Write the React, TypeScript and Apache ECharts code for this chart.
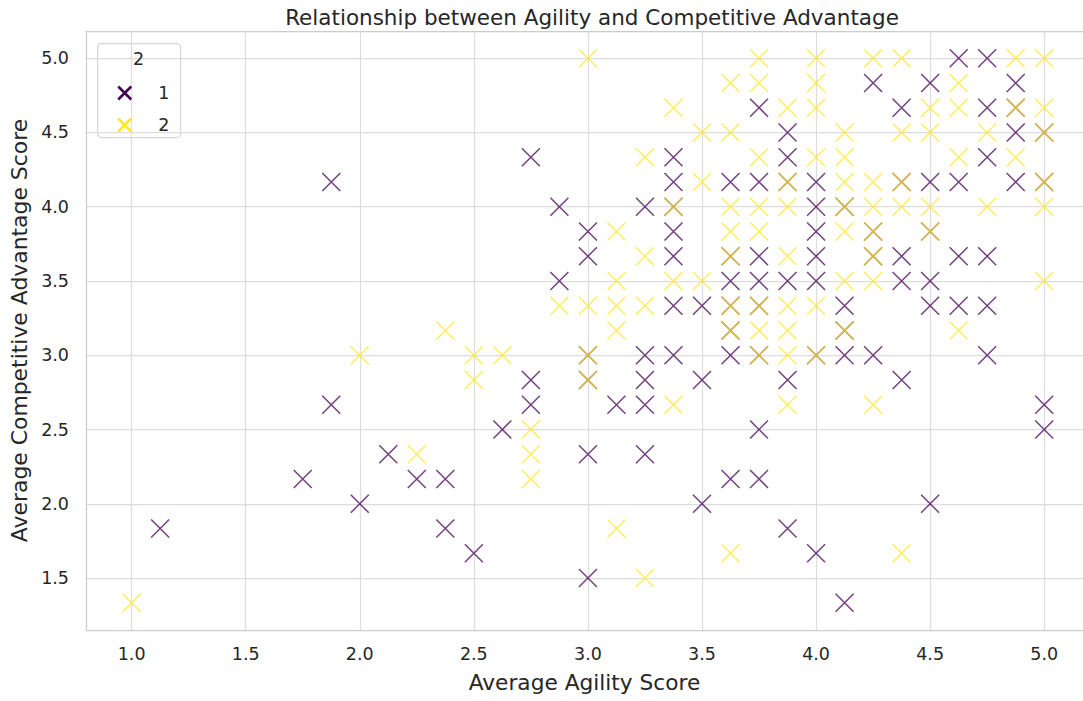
import React, { useEffect, useRef } from "react";
import * as echarts from "echarts";

const chartTitle = "Relationship between Agility and Competitive Advantage";
const xAxisTitle = "Average Agility Score";
const yAxisTitle = "Average Competitive Advantage Score";
const legendTitle = "2";
const groupNames = ["1", "2"];
const groupColors = ["#440154", "#fde725"];

const xTicks = [1.0, 1.5, 2.0, 2.5, 3.0, 3.5, 4.0, 4.5, 5.0];
const yTicks = [1.5, 2.0, 2.5, 3.0, 3.5, 4.0, 4.5, 5.0];

// group "1" (purple)
const group1: number[][] = [
  [1.125, 1.833], [1.75, 2.167], [1.875, 4.167], [1.875, 2.667], [2.0, 2.0],
  [2.125, 2.333], [2.25, 2.167], [2.375, 2.167], [2.375, 1.833], [2.5, 1.667],
  [2.625, 2.5], [2.75, 4.333], [2.75, 2.833], [2.75, 2.667], [2.875, 4.0], [2.875, 3.5],
  [3.0, 3.833], [3.0, 3.667], [3.0, 3.0], [3.0, 2.833], [3.0, 2.333], [3.0, 1.5],
  [3.125, 2.667],
  [3.25, 4.0], [3.25, 3.0], [3.25, 2.833], [3.25, 2.667], [3.25, 2.333],
  [3.375, 4.333], [3.375, 4.167], [3.375, 4.0], [3.375, 3.833], [3.375, 3.667], [3.375, 3.333], [3.375, 3.0],
  [3.5, 3.333], [3.5, 2.833], [3.5, 2.0],
  [3.625, 4.167], [3.625, 3.667], [3.625, 3.5], [3.625, 3.333], [3.625, 3.167], [3.625, 3.0], [3.625, 2.167],
  [3.75, 4.667], [3.75, 4.167], [3.75, 3.667], [3.75, 3.5], [3.75, 3.333], [3.75, 3.0], [3.75, 2.5], [3.75, 2.167],
  [3.875, 4.5], [3.875, 4.333], [3.875, 4.167], [3.875, 3.5], [3.875, 2.833], [3.875, 1.833],
  [4.0, 4.167], [4.0, 4.0], [4.0, 3.833], [4.0, 3.667], [4.0, 3.5], [4.0, 3.0], [4.0, 1.667],
  [4.125, 4.0], [4.125, 3.333], [4.125, 3.167], [4.125, 3.0], [4.125, 1.333],
  [4.25, 4.833], [4.25, 3.833], [4.25, 3.667], [4.25, 3.0],
  [4.375, 4.667], [4.375, 4.167], [4.375, 3.667], [4.375, 3.5], [4.375, 2.833],
  [4.5, 4.833], [4.5, 4.167], [4.5, 3.833], [4.5, 3.5], [4.5, 3.333], [4.5, 2.0],
  [4.625, 5.0], [4.625, 4.167], [4.625, 3.667], [4.625, 3.333],
  [4.75, 5.0], [4.75, 4.667], [4.75, 4.333], [4.75, 3.667], [4.75, 3.333], [4.75, 3.0],
  [4.875, 4.833], [4.875, 4.667], [4.875, 4.5], [4.875, 4.167],
  [5.0, 4.5], [5.0, 4.167], [5.0, 2.667], [5.0, 2.5],
];

// group "2" (yellow)
const group2: number[][] = [
  [1.0, 1.333], [2.0, 3.0], [2.25, 2.333], [2.375, 3.167], [2.5, 3.0], [2.5, 2.833],
  [2.625, 3.0], [2.75, 2.5], [2.75, 2.333], [2.75, 2.167], [2.875, 3.333],
  [3.0, 5.0], [3.0, 3.333], [3.0, 3.0], [3.0, 2.833],
  [3.125, 3.833], [3.125, 3.5], [3.125, 3.333], [3.125, 3.167], [3.125, 1.833],
  [3.25, 4.333], [3.25, 3.667], [3.25, 3.333], [3.25, 1.5],
  [3.375, 4.667], [3.375, 4.0], [3.375, 3.5], [3.375, 2.667],
  [3.5, 4.5], [3.5, 4.167], [3.5, 3.5],
  [3.625, 4.833], [3.625, 4.5], [3.625, 4.0], [3.625, 3.833], [3.625, 3.667], [3.625, 3.333], [3.625, 3.167], [3.625, 1.667],
  [3.75, 5.0], [3.75, 4.833], [3.75, 4.333], [3.75, 4.0], [3.75, 3.833], [3.75, 3.333], [3.75, 3.167], [3.75, 3.0],
  [3.875, 4.667], [3.875, 4.167], [3.875, 4.0], [3.875, 3.667], [3.875, 3.333], [3.875, 3.167], [3.875, 3.0], [3.875, 2.667],
  [4.0, 5.0], [4.0, 4.833], [4.0, 4.667], [4.0, 4.333], [4.0, 3.333], [4.0, 3.0],
  [4.125, 4.5], [4.125, 4.333], [4.125, 4.167], [4.125, 4.0], [4.125, 3.833], [4.125, 3.5], [4.125, 3.167],
  [4.25, 5.0], [4.25, 4.167], [4.25, 4.0], [4.25, 3.833], [4.25, 3.667], [4.25, 3.5], [4.25, 2.667],
  [4.375, 5.0], [4.375, 4.5], [4.375, 4.167], [4.375, 4.0], [4.375, 1.667],
  [4.5, 4.667], [4.5, 4.5], [4.5, 4.0], [4.5, 3.833],
  [4.625, 4.833], [4.625, 4.667], [4.625, 4.333], [4.625, 3.167],
  [4.75, 4.5], [4.75, 4.0],
  [4.875, 5.0], [4.875, 4.667], [4.875, 4.333],
  [5.0, 5.0], [5.0, 4.667], [5.0, 4.5], [5.0, 4.167], [5.0, 4.0], [5.0, 3.5],
];

const X_SYMBOL = "path://M0,0L10,10M10,0L0,10";
const FONT = "DejaVu Sans";
const TEXT = "#262626";
const SPINE = "#cccccc";

export default function App() {
  const ref = useRef<HTMLDivElement>(null);
  useEffect(() => {
    if (!ref.current) return;
    const chart = echarts.init(ref.current, undefined, { renderer: "svg" });
    const groups = [group1, group2];
    chart.setOption({
      animation: false,
      backgroundColor: "#ffffff",
      title: {
        text: chartTitle,
        left: 587,
        top: 1,
        textAlign: "center",
        textStyle: { fontFamily: FONT, fontSize: 21.5, fontWeight: "normal", color: TEXT },
      },
      grid: {
        left: 86,
        right: 0,
        top: 31,
        bottom: 71,
        show: false,
      },
      xAxis: [
        {
          type: "value",
          min: 0.8,
          max: 5.17,
          name: xAxisTitle,
          nameLocation: "middle",
          nameGap: 41,
          nameTextStyle: { fontFamily: FONT, fontSize: 21.7, color: TEXT },
          axisLine: { show: true, lineStyle: { color: SPINE, width: 1.25 } },
          axisTick: { show: false, customValues: xTicks },
          axisLabel: {
            customValues: xTicks,
            formatter: (v: number) => v.toFixed(1),
            fontFamily: FONT,
            fontSize: 17.5,
            color: TEXT,
            margin: 15,
          },
          splitLine: { show: true, lineStyle: { color: "#dddddd", width: 1.25 } },
        },
        {
          type: "value",
          position: "top",
          min: 0.8,
          max: 5.17,
          axisLine: { show: true, onZero: false, lineStyle: { color: SPINE, width: 1.25 } },
          axisTick: { show: false },
          axisLabel: { show: false },
          splitLine: { show: false },
        },
      ],
      yAxis: {
        type: "value",
        min: 1.15,
        max: 5.1833,
        name: yAxisTitle,
        nameLocation: "middle",
        nameGap: 55,
        nameTextStyle: { fontFamily: FONT, fontSize: 21.9, color: TEXT },
        axisLine: { show: true, onZero: false, lineStyle: { color: SPINE, width: 1.25 } },
        axisTick: { show: false, customValues: yTicks },
        axisLabel: {
          customValues: yTicks,
          formatter: (v: number) => v.toFixed(1),
          fontFamily: FONT,
          fontSize: 17.5,
          color: TEXT,
          margin: 17,
        },
        splitLine: { show: true, lineStyle: { color: "#dddddd", width: 1.25 } },
      },
      legend: {
        orient: "vertical",
        left: 112,
        top: 79,
        itemWidth: 13,
        itemHeight: 13,
        itemGap: 14,
        icon: X_SYMBOL,
        itemStyle: { borderWidth: 2.5, opacity: 1 },
        textStyle: { fontFamily: FONT, fontSize: 17.5, color: TEXT, padding: [0, 0, 0, 22] },
        data: groupNames,
      },
      graphic: [
        {
          type: "rect",
          left: 97,
          top: 43,
          z: 0,
          shape: { width: 83, height: 94, r: 4 },
          style: { fill: "rgba(255,255,255,0.8)", stroke: "#d6d6d6", lineWidth: 1.2 },
        },
        {
          type: "text",
          left: 133,
          top: 50,
          z: 1,
          style: { text: legendTitle, fontFamily: FONT, fontSize: 17.5, fill: TEXT },
        },
      ],
      series: groupNames.map((name, i) => ({
        name,
        type: "scatter",
        data: groups[i],
        symbol: X_SYMBOL,
        symbolSize: 18,
        itemStyle: {
          color: groupColors[i],
          borderColor: groupColors[i],
          borderWidth: 1.5,
          opacity: 0.75,
        },
        emphasis: { disabled: true },
        z: 2 + i,
      })),
    });
    return () => chart.dispose();
  }, []);
  return (
    <div
      ref={ref}
      style={{ position: "fixed", left: 0, top: 0, width: 1083, height: 701 }}
    />
  );
}
